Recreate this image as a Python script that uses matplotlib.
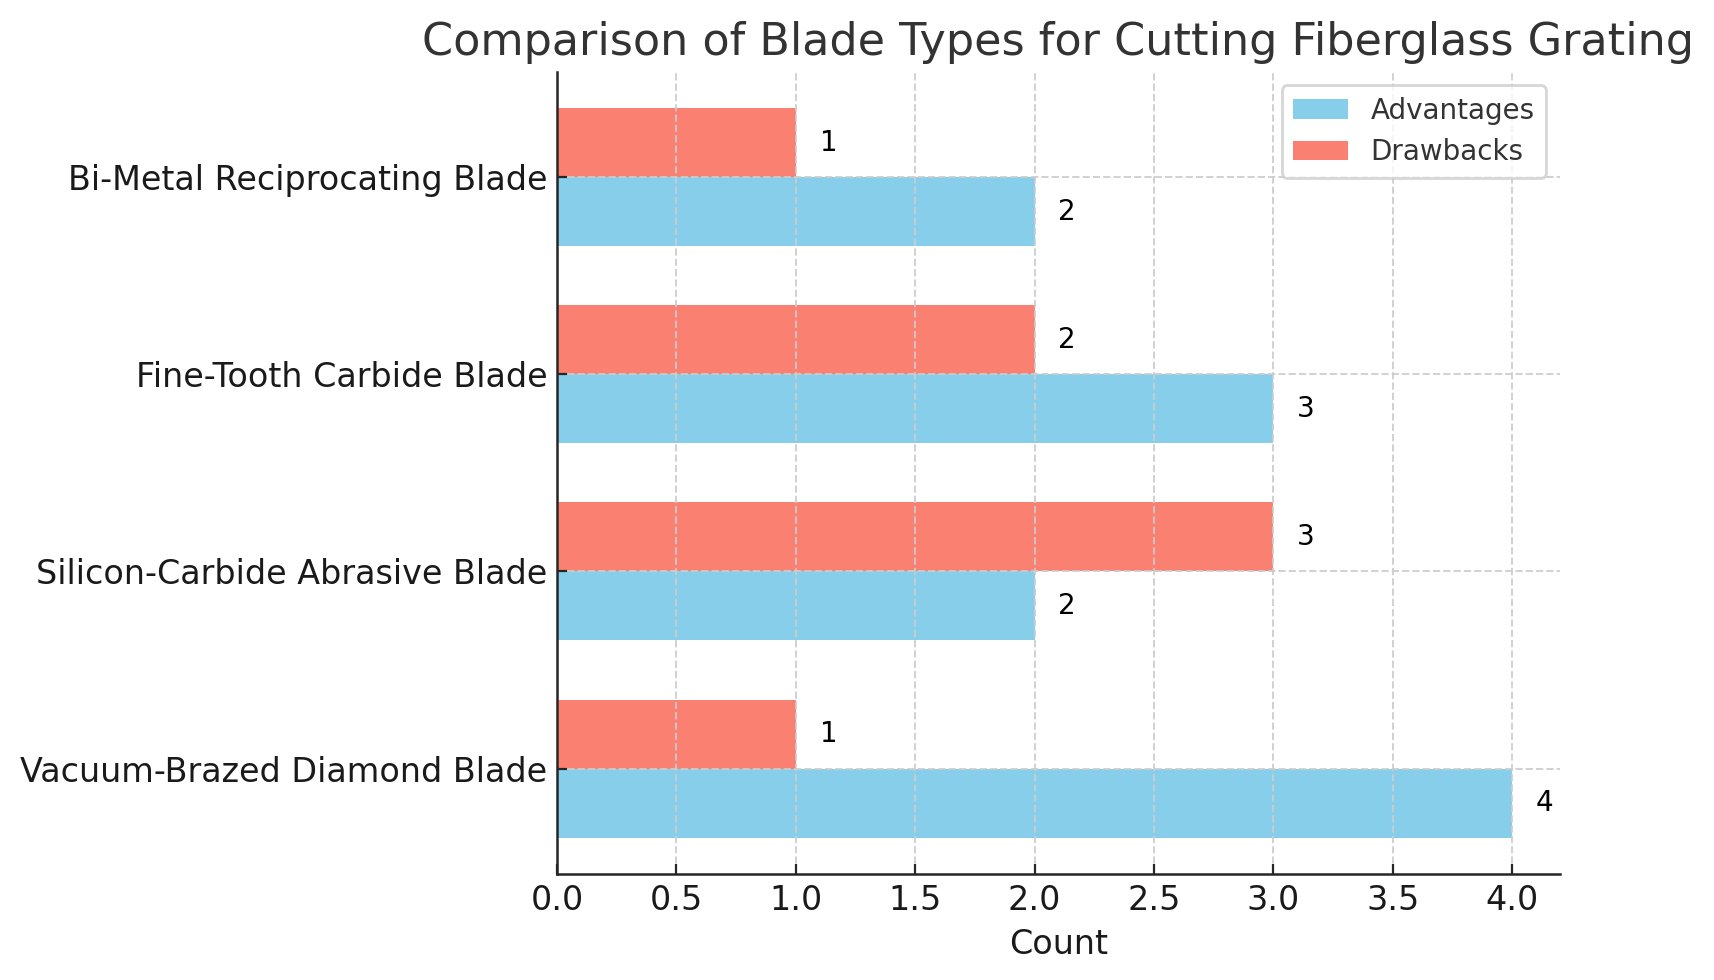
import matplotlib
matplotlib.use("Agg")
import matplotlib.pyplot as plt
import numpy as np

# data, bottom to top
blades = ["Vacuum-Brazed Diamond Blade", "Silicon-Carbide Abrasive Blade",
          "Fine-Tooth Carbide Blade", "Bi-Metal Reciprocating Blade"]
advantages = [4, 2, 3, 2]
drawbacks = [1, 3, 2, 1]

y = np.arange(len(blades))
h = 0.35

fig, ax = plt.subplots(figsize=(8.57, 4.9), dpi=200)
fig.subplots_adjust(left=0.325, right=0.91, top=0.927, bottom=0.108)

b1 = ax.barh(y - h / 2, advantages, h, color="skyblue", label="Advantages")
b2 = ax.barh(y + h / 2, drawbacks, h, color="salmon", label="Drawbacks")

for bars in (b1, b2):
    for bar in bars:
        w = bar.get_width()
        ax.text(w + 0.1, bar.get_y() + bar.get_height() / 2, f"{w:g}",
                va="center", ha="left", fontsize=10)

ax.set_yticks(y)
ax.set_yticklabels(blades, fontsize=12, color="#1a1a1a")
ax.tick_params(axis="x", labelsize=12, labelcolor="#1a1a1a")
ax.tick_params(direction="in", length=3.5, color="#262626")
ax.set_xlabel("Count", fontsize=12, color="#1a1a1a")
ax.set_title("Comparison of Blade Types for Cutting Fiberglass Grating",
             fontsize=16, color="#333333")
ax.grid(True, linestyle="--", color="#cccccc", alpha=0.9, linewidth=0.7)
ax.spines["top"].set_visible(False)
ax.spines["right"].set_visible(False)
for s in ("left", "bottom"):
    ax.spines[s].set_color("#262626")
    ax.spines[s].set_linewidth(0.9)
ax.legend(fontsize=10, labelcolor="#333333")

fig.savefig("out.png")
